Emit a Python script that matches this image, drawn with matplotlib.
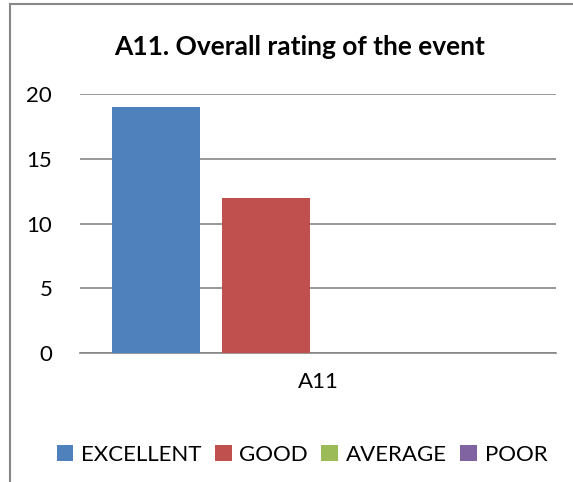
import matplotlib.pyplot as plt
import numpy as np

# survey answers for question A11
categories = ["A11"]
series_names = ["EXCELLENT", "GOOD", "AVERAGE", "POOR"]
series_values = [19, 12, 0, 0]
series_colors = ["#4F81BD", "#C0504D", "#9BBB59", "#8064A2"]
y_ticks = [0, 5, 10, 15, 20]

plt.rcParams['font.family'] = ['Lato', 'DejaVu Sans']

fig = plt.figure(figsize=(5.73, 4.82), dpi=100)
ax = fig.add_axes([80 / 573, 1 - 353 / 482, 476 / 573, 259 / 482])

bar_w = 0.185
step = 0.231
for i, (name, val, col) in enumerate(zip(series_names, series_values, series_colors)):
    ax.bar(0.507 + (i - 1.5) * step, val, width=bar_w, color=col, label=name, zorder=3)

ax.set_xlim(0, 1)
ax.set_ylim(0, 20)
ax.set_yticks(y_ticks)
ax.set_xticks([0.5])
ax.set_xticklabels(categories)
ax.tick_params(axis='both', length=0, labelsize=16)
ax.tick_params(axis='y', pad=20)
ax.tick_params(axis='x', pad=14)
ax.grid(axis='y', color='#868686', linewidth=1.2, zorder=0)
for s in ['top', 'right', 'left']:
    ax.spines[s].set_visible(False)
ax.spines['bottom'].set_color('#868686')
ax.spines['bottom'].set_linewidth(1.2)

fig.text(0.523, 1 - 47 / 482, "A11. Overall rating of the event", ha='center', va='center',
         fontsize=19, fontweight='bold')

fig.legend(loc='center', bbox_to_anchor=(0.527, 1 - 455 / 482), ncol=4, frameon=False,
           fontsize=16, handlelength=0.75, handleheight=0.75, handletextpad=0.35, columnspacing=0.6)

# chart border (cropped on right and bottom)
fig.add_artist(plt.Line2D([10 / 573, 10 / 573], [0, 1 - 4 / 482], color='#888888', linewidth=1.5))
fig.add_artist(plt.Line2D([10 / 573, 1], [1 - 4 / 482, 1 - 4 / 482], color='#888888', linewidth=1.5))

fig.savefig("out.png", dpi=100)
